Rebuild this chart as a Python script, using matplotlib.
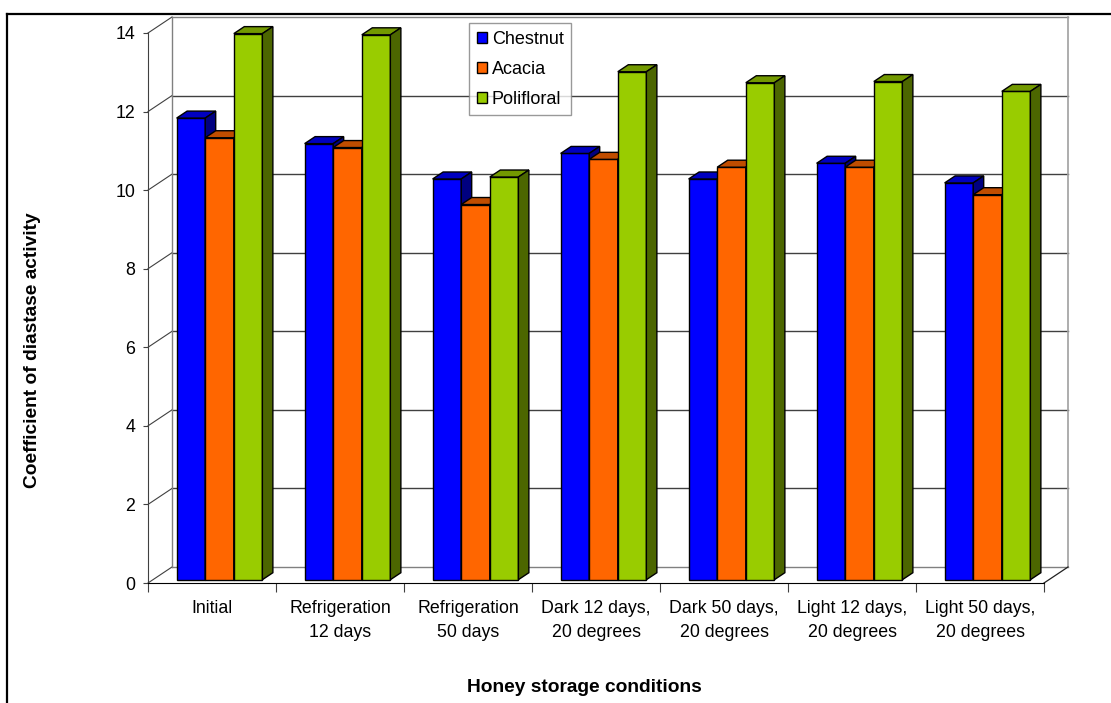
import matplotlib.pyplot as plt
import numpy as np
from matplotlib.patches import Polygon, Patch
from matplotlib.lines import Line2D

plt.rcParams['font.family'] = ['Liberation Sans', 'DejaVu Sans']

conditions = ['Initial', 'Refrigeration\n12 days', 'Refrigeration\n50 days',
              'Dark 12 days,\n20 degrees', 'Dark 50 days,\n20 degrees',
              'Light 12 days,\n20 degrees', 'Light 50 days,\n20 degrees']
honeys = ['Chestnut', 'Acacia', 'Polifloral']
chestnut = [11.75, 11.1, 10.2, 10.85, 10.2, 10.6, 10.1]
acacia = [11.25, 11.0, 9.55, 10.7, 10.5, 10.5, 9.8]
polifloral = [13.9, 13.87, 10.25, 12.93, 12.65, 12.68, 12.43]

# front, top, side shades for each series
shades = [('#0000ff', '#0000c0', '#000080'),
          ('#ff6600', '#c04d00', '#803300'),
          ('#99cc00', '#739900', '#4c6600')]

W, H = 1111, 703
fig = plt.figure(figsize=(W / 100, H / 100), dpi=100)
ax = fig.add_axes([148 / W, 120 / H, 896 / W, 550 / H])
n = len(conditions)
ax.set_xlim(0, n)
ax.set_ylim(0, 14)

# pixel sizes -> data units
px_x = 896 / n
px_y = 550 / 14
wall_dx, wall_dy = 24 / px_x, 16 / px_y
face_dx, face_dy = 7.5 / px_x, 3.3 / px_y
deep_dx, deep_dy = 10.5 / px_x, 7 / px_y

yt = np.arange(0, 15, 2)

# back wall and side wall
for y in yt:
    c = '#808080' if y in (0, 14) else '#404040'
    ax.plot([wall_dx, n + wall_dx], [y + wall_dy, y + wall_dy], color=c, lw=1.0,
            clip_on=False, zorder=1)
    ax.plot([0, wall_dx], [y, y + wall_dy], color='#404040', lw=0.8,
            clip_on=False, zorder=1)
ax.plot([wall_dx, wall_dx], [wall_dy, 14 + wall_dy], color='#808080', lw=1.0,
        clip_on=False, zorder=1)
ax.plot([n + wall_dx, n + wall_dx], [wall_dy, 14 + wall_dy], color='#a0a0a0', lw=1.2,
        clip_on=False, zorder=1)
ax.plot([n, n + wall_dx], [0, wall_dy], color='#202020', lw=0.9,
        clip_on=False, zorder=1)

# 3d columns, drawn left to right so each front face hides the previous side
group_w = 0.67
bw = group_w / 3
for i in range(n):
    for s, vals in enumerate([chestnut, acacia, polifloral]):
        x0 = i + 0.5 - group_w / 2 + s * bw + face_dx
        x1 = x0 + bw
        y0 = face_dy
        y1 = vals[i] + face_dy
        front, top, side = shades[s]
        kw = dict(edgecolor='black', lw=1.0, clip_on=False, zorder=3 + i * 3 + s,
                  joinstyle='miter')
        ax.add_patch(Polygon([(x0, y0), (x1, y0), (x1, y1), (x0, y1)], facecolor=front, **kw))
        ax.add_patch(Polygon([(x0, y1), (x1, y1), (x1 + deep_dx, y1 + deep_dy),
                              (x0 + deep_dx, y1 + deep_dy)], facecolor=top, **kw))
        ax.add_patch(Polygon([(x1, y0), (x1 + deep_dx, y0 + deep_dy),
                              (x1 + deep_dx, y1 + deep_dy), (x1, y1)], facecolor=side, **kw))

for sp in ['top', 'right']:
    ax.spines[sp].set_visible(False)
ax.spines['left'].set_color('#404040')
ax.spines['bottom'].set_color('black')
ax.patch.set_visible(False)

ax.set_yticks(yt)
ax.set_yticklabels([str(v) for v in yt], fontsize=12.8)
ax.tick_params(axis='y', length=3.6, width=0.8, color='#404040', pad=5.5)
ax.set_xticks(np.arange(n) + 0.5)
ax.set_xticklabels(conditions, fontsize=12.8, linespacing=1.55)
ax.tick_params(axis='x', which='major', length=0, pad=12)
ax.set_xticks(np.arange(n + 1), minor=True)
ax.tick_params(axis='x', which='minor', length=6.5, width=0.8, color='#404040')

fig.text(584 / W, 1 - 687 / H, 'Honey storage conditions', ha='center', va='center',
         fontsize=13.8, fontweight='bold')
fig.text(33 / W, 1 - 350 / H, 'Coefficient of diastase activity', ha='center',
         va='center', rotation=90, fontsize=13.8, fontweight='bold')

handles = [Patch(facecolor=sh[0], edgecolor='black', lw=1.0) for sh in shades]
leg = fig.legend(handles, honeys, loc='upper left', bbox_to_anchor=(469 / W, 1 - 23 / H),
                 bbox_transform=fig.transFigure, fontsize=13, frameon=True, fancybox=False,
                 edgecolor='#808080', borderaxespad=0, borderpad=0.42, handlelength=0.55,
                 handleheight=0.55, handletextpad=0.3, labelspacing=0.72)
leg.get_frame().set_linewidth(1.0)

# outer frame
fig.add_artist(Line2D([7 / W, 1], [1 - 14 / H, 1 - 14 / H], transform=fig.transFigure,
                      color='black', lw=1.6))
fig.add_artist(Line2D([7 / W, 7 / W], [0, 1 - 14 / H], transform=fig.transFigure,
                      color='black', lw=1.6))

fig.savefig('out.png', dpi=100)
